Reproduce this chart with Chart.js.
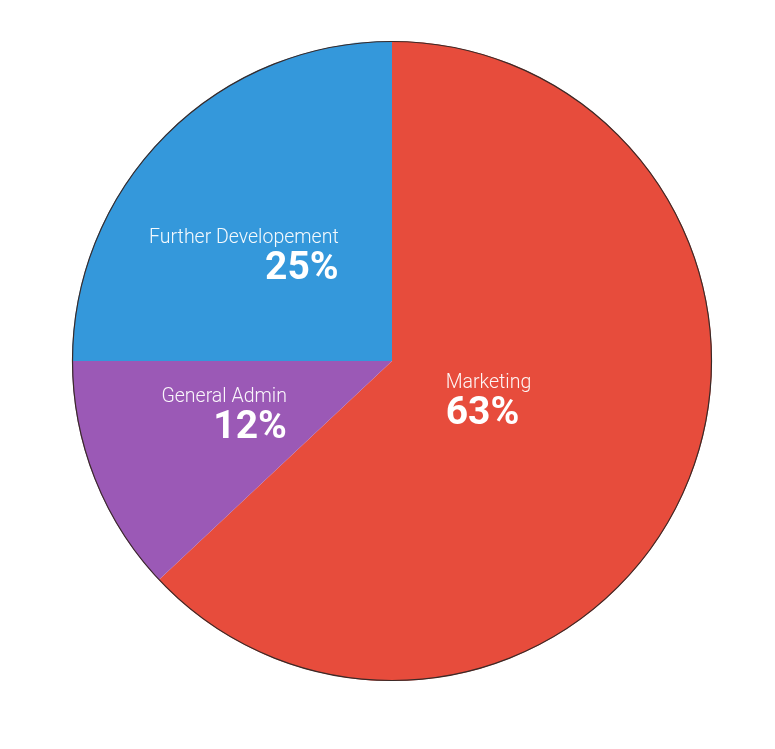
<!DOCTYPE html>
<html>
<head>
<meta charset="utf-8">
<script src="https://cdn.jsdelivr.net/npm/chart.js@4"></script>
<style>
html,body{margin:0;padding:0;background:#fff;}
#wrap{width:775px;height:749px;position:relative;}
</style>
</head>
<body>
<div id="wrap"><canvas id="c" width="775" height="749"></canvas></div>
<script>
const categories = ["Marketing", "General Admin", "Further Developement"];
const values = [63, 12, 25];
const percentLabels = ["63%", "12%", "25%"];
const colors = ["#e74c3c", "#9b59b6", "#3498db"];

// label placement (style): radial fraction and angle tweak (deg) from slice mid-angle, alignment
const labelPlace = [
  {f: 0.325, da: -1.5, align: "left"},
  {f: 0.55, da: 4.1, align: "right"},
  {f: 0.57, da: -9.3, align: "right"}
];

const outerBorder = {
  id: "outerBorder",
  afterDatasetsDraw(chart) {
    const meta = chart.getDatasetMeta(0);
    const a = meta.data[0];
    const ctx = chart.ctx;
    ctx.save();
    ctx.beginPath();
    ctx.arc(a.x, a.y, a.outerRadius - 0.5, 0, Math.PI * 2);
    ctx.strokeStyle = "#3a2a28";
    ctx.lineWidth = 1.2;
    ctx.stroke();
    ctx.restore();
  }
};

const sliceLabels = {
  id: "sliceLabels",
  afterDatasetsDraw(chart) {
    const meta = chart.getDatasetMeta(0);
    const ctx = chart.ctx;
    ctx.save();
    meta.data.forEach((arc, i) => {
      const p = labelPlace[i];
      const mid = (arc.startAngle + arc.endAngle) / 2 + p.da * Math.PI / 180;
      const cx = arc.x + Math.cos(mid) * arc.outerRadius * p.f;
      const cy = arc.y + Math.sin(mid) * arc.outerRadius * p.f;
      ctx.font = "300 19.5px Roboto";
      const w1 = ctx.measureText(categories[i]).width;
      ctx.font = "bold 39px Roboto";
      const w2 = ctx.measureText(percentLabels[i]).width;
      const bw = Math.max(w1, w2);
      const x = p.align === "left" ? cx - bw / 2 : cx + bw / 2;
      ctx.textAlign = p.align;
      ctx.textBaseline = "alphabetic";
      ctx.fillStyle = "rgba(255,255,255,0.95)";
      ctx.font = "300 19.5px Roboto";
      ctx.fillText(categories[i], x, cy - 12);
      ctx.fillStyle = "#ffffff";
      ctx.font = "bold 39px Roboto";
      ctx.fillText(percentLabels[i], x, cy + 24);
    });
    ctx.restore();
  }
};

new Chart(document.getElementById("c"), {
  type: "pie",
  data: {
    labels: categories,
    datasets: [{
      data: values,
      backgroundColor: colors,
      borderWidth: 0,
      hoverOffset: 0
    }]
  },
  options: {
    responsive: false,
    animation: false,
    layout: {padding: {left: 9, right: 0, top: 41, bottom: 68}},
    plugins: {legend: {display: false}, tooltip: {enabled: false}}
  },
  plugins: [outerBorder, sliceLabels]
});
</script>
</body>
</html>
